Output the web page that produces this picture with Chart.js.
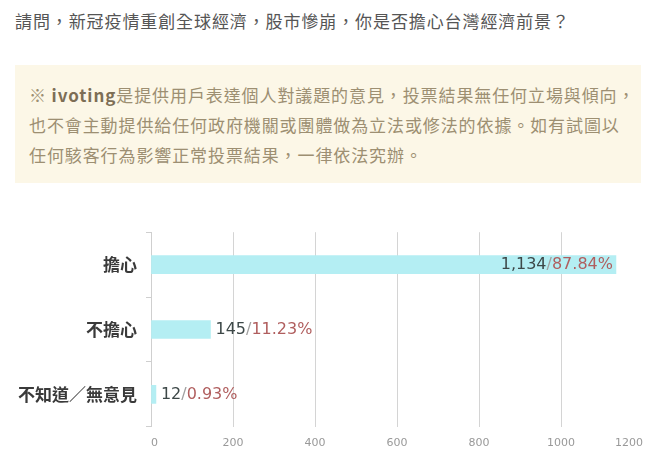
<!DOCTYPE html>
<html>
<head>
<meta charset="utf-8">
<script src="https://cdn.jsdelivr.net/npm/chart.js@4/dist/chart.umd.min.js"></script>
<style>
  html, body { margin: 0; padding: 0; background: #fff; }
  body { width: 656px; height: 455px; position: relative; overflow: hidden;
         font-family: "Noto Sans CJK TC", "Noto Sans", sans-serif; }
  #pregunta { position: absolute; left: 15px; top: 10px; font-size: 17px; line-height: 22px;
              letter-spacing: 0.9px; color: #555; white-space: nowrap; }
  #aviso { position: absolute; left: 15px; top: 65px; width: 612px; height: 103px;
           padding: 15px 0 0 14px; background: #fcf7e7; color: #9d8f72;
           font-size: 17px; line-height: 30px; letter-spacing: 0.9px; white-space: nowrap; }
  #aviso b { color: #7d6e55; }
  #caja { position: absolute; left: 0; top: 213px; width: 656px; height: 247px; }
</style>
</head>
<body>
<div id="pregunta">請問，新冠疫情重創全球經濟，股市慘崩，你是否擔心台灣經濟前景？</div>
<div id="aviso">※ <b>ivoting</b>是提供用戶表達個人對議題的意見，投票結果無任何立場與傾向，<br>也不會主動提供給任何政府機關或團體做為立法或修法的依據。如有試圖以<br>任何駭客行為影響正常投票結果，一律依法究辦。</div>
<div id="caja"><canvas id="grafico"></canvas></div>
<script>
const opciones = ['擔心', '不擔心', '不知道／無意見'];
const votos = [1134, 145, 12];
const ejeMax = 1200;
const ejePaso = 200;

const total = votos.reduce((a, b) => a + b, 0);

// etiquetas "votos/porcentaje" al final de cada barra
const etiquetasBarra = {
    id: 'etiquetasBarra',
    afterDatasetsDraw(chart) {
        const ctx = chart.ctx;
        const meta = chart.getDatasetMeta(0);
        ctx.save();
        ctx.font = '16px "DejaVu Sans"';
        ctx.textBaseline = 'middle';
        ctx.textAlign = 'left';
        meta.data.forEach((barra, i) => {
            const partes = [
                [votos[i].toLocaleString('en-US'), '#3d4848'],
                ['/', '#a0a0a0'],
                [(votos[i] / total * 100).toFixed(2) + '%', '#b05e5e']
            ];
            const ancho = partes.reduce((s, p) => s + ctx.measureText(p[0]).width, 0);
            // dentro de la barra si cabe, si no a la derecha
            let x = (barra.x - barra.base > ancho + 8) ? barra.x - 3 - ancho : barra.x + 5;
            partes.forEach(([txt, col]) => {
                ctx.fillStyle = col;
                ctx.fillText(txt, x, barra.y);
                x += ctx.measureText(txt).width;
            });
        });
        ctx.restore();
    }
};

new Chart(document.getElementById('grafico'), {
    type: 'bar',
    data: {
        labels: opciones,
        datasets: [{
            data: votos,
            backgroundColor: '#b4eef3',
            barThickness: 18
        }]
    },
    options: {
        indexAxis: 'y',
        responsive: true,
        maintainAspectRatio: false,
        animation: false,
        layout: { padding: { top: 0, right: 13, bottom: 0, left: 0 } },
        plugins: {
            legend: { display: false },
            tooltip: { enabled: false }
        },
        scales: {
            x: {
                min: 0,
                max: ejeMax,
                border: { display: false },
                grid: {
                    drawTicks: false,
                    color: c => c.tick && c.tick.value === ejeMax ? 'rgba(0,0,0,0)' : '#d4d4d4'
                },
                ticks: {
                    stepSize: ejePaso,
                    align: 'inner',
                    padding: 10,
                    color: '#999',
                    font: { family: '"DejaVu Sans"', size: 11 },
                    callback: v => v
                }
            },
            y: {
                border: { color: '#cfcfcf' },
                grid: {
                    drawOnChartArea: false,
                    tickLength: 5,
                    color: '#cfcfcf'
                },
                ticks: {
                    padding: 9,
                    color: '#3a3a3a',
                    font: { family: '"Noto Sans CJK TC"', size: 17, weight: 'bold' }
                },
                afterFit: s => { s.width = 151; }
            }
        }
    },
    plugins: [etiquetasBarra]
});
</script>
</body>
</html>
